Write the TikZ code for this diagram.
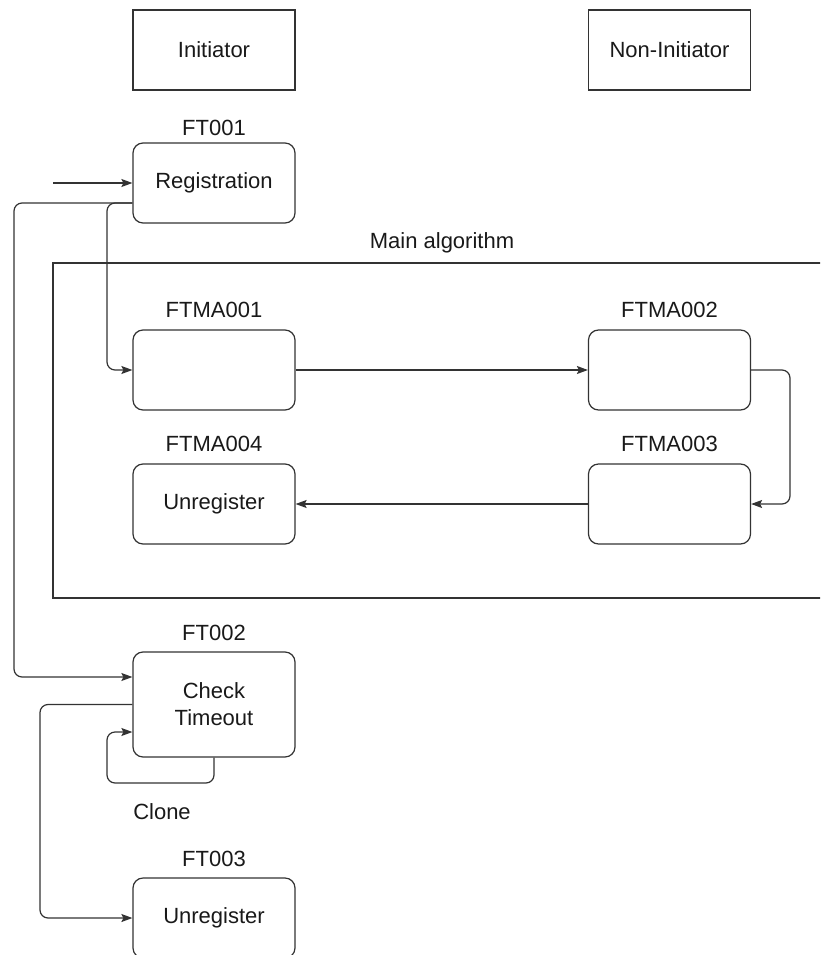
\documentclass[tikz,border=0pt]{standalone}
\usepackage{fontspec}
\setmainfont{Liberation Sans}
\usetikzlibrary{arrows.meta}
\begin{document}
\begin{tikzpicture}[x=1pt,y=-1pt,
  every node/.style={font=\fontsize{22}{27}\selectfont, text=black!90},
  plainbox/.style={draw=black!80, line width=1.2pt, minimum width=162pt, minimum height=80pt, inner sep=0pt, align=center},
  rbox/.style={plainbox, rounded corners=10pt},
  frame/.style={draw=black!80, line width=1.2pt, minimum width=777pt, minimum height=335pt, inner sep=0pt},
  conn/.style={draw=black!80, line width=1.2pt, rounded corners=8pt},
  arr/.style={conn, -{Stealth[length=11pt,width=8pt,inset=2pt]}}
]
\useasboundingbox (0,0) rectangle (820,955);
\clip (0,0) rectangle (820,955);

\node[plainbox] (init) at (214,50) {Initiator};
\node[plainbox] (noninit) at (669.5,50) {Non-Initiator};

\node (l1) at (214,128) {FT001};
\node[rbox] (reg) at (214,183) {Registration};

\node (lmain) at (442,243) {Main algorithm};
\node[frame] (main) at (441.5,430.5) {};

\node (la1) at (214,310) {FTMA001};
\node[rbox] (f1) at (214,370) {};
\node (la2) at (669.5,310) {FTMA002};
\node[rbox] (f2) at (669.5,370) {};
\node (la3) at (669.5,444) {FTMA003};
\node[rbox] (f3) at (669.5,504) {};
\node (la4) at (214,444) {FTMA004};
\node[rbox] (f4) at (214,504) {Unregister};

\node (l2) at (214,633) {FT002};
\node[rbox, minimum height=105pt] (ct) at (214,704.5) {Check\\Timeout};
\node (lclone) at (162,812) {Clone};
\node (l3) at (214,859) {FT003};
\node[rbox] (u3) at (214,918) {Unregister};

\coordinate (start) at (53,183);
\draw[arr] (start) -- (reg.west);
\draw[arr] ([yshift=-20pt]reg.west) -- (14,203) -- (14,677) -- ([yshift=27.5pt]ct.west);
\draw[arr] ([yshift=-20pt]reg.west) -- (107,203) -- (107,370) -- (f1.west);
\draw[arr] (f1.east) -- (f2.west);
\draw[arr] (f2.east) -- (790,370) -- (790,504) -- (f3.east);
\draw[arr] (f3.west) -- (f4.east);
\draw[arr] (ct.west) -- (40,704.5) -- (40,918) -- (u3.west);
\draw[arr] (ct.south) -- (214,783) -- (107,783) -- (107,732) -- ([yshift=-27.5pt]ct.west);
\end{tikzpicture}
\end{document}
